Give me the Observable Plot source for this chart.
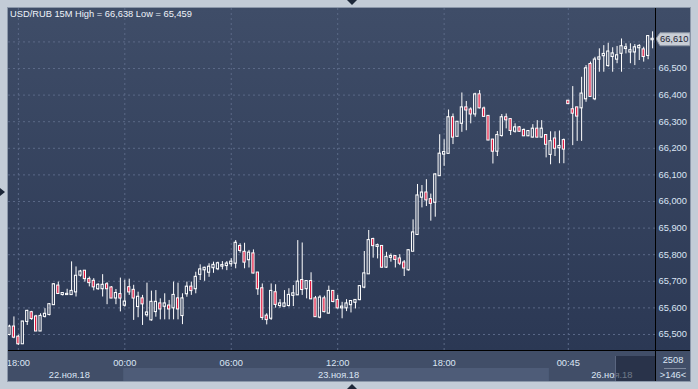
<!DOCTYPE html>
<html><head><meta charset="utf-8">
<script src="https://cdn.jsdelivr.net/npm/d3@7"></script>
<script src="https://cdn.jsdelivr.net/npm/@observablehq/plot@0.6"></script>
<style>
html,body{margin:0;padding:0;background:#c3ccd7;}
#wrap{position:relative;width:698px;height:389px;background:#c3ccd7;overflow:hidden;font-family:"Liberation Sans",Arial,sans-serif;}
.abs{position:absolute;}
#wrap svg{position:absolute;left:0;}
</style></head>
<body><div id="wrap">
  <div class="abs" style="left:7px;top:7px;width:684px;height:375px;box-sizing:border-box;border:1px solid #8c98aa;"></div>
  <div class="abs" style="left:8px;top:8px;width:682px;height:342px;background:linear-gradient(#3f4d68,#2b3854);"></div>
  <div class="abs" style="left:8px;top:350px;width:682px;height:31px;background:#414e68;"></div>
</div>
<script>
// ---- data: 15-minute USD/RUB candles (index 0 = 22 Nov 17:30) ----
const open = [65.500,65.528,65.490,65.465,65.549,65.582,65.566,65.513,65.568,65.575,65.612,65.682,65.650,65.650,65.650,65.660,65.723,65.738,65.707,65.700,65.672,65.672,65.687,65.675,65.637,65.650,65.610,65.676,65.666,
65.605,65.634,65.574,65.555,65.586,65.615,65.606,65.607,65.600,65.634,65.571,65.653,65.678,65.672,65.726,65.743,65.734,65.751,65.747,65.757,65.759,65.766,65.768,65.831,65.809,65.781,65.803,65.731,65.672,
65.569,65.561,65.657,65.609,65.606,65.609,65.647,65.649,65.703,65.672,65.699,65.634,65.565,65.634,65.580,65.662,65.628,65.600,65.600,65.612,65.621,65.631,65.678,65.728,65.857,65.831,65.831,65.753,65.790,
65.793,65.784,65.769,65.743,65.813,65.876,66.016,66.032,66.007,65.997,66.097,66.178,66.181,66.315,66.245,66.294,66.352,66.344,66.329,66.401,66.348,66.320,66.231,66.189,66.248,66.315,66.308,66.264,66.277,
66.267,66.247,66.242,66.272,66.242,66.248,66.177,66.235,66.202,66.229,66.377,66.345,66.352,66.352,66.386,66.515,66.386,66.535,66.548,66.511,66.545,66.535,66.557,66.575,66.562,66.562,66.578,66.570,66.549,66.608];
const high = [65.535,65.566,65.497,65.549,65.591,65.587,65.572,65.578,65.597,65.616,65.691,65.697,65.657,65.670,65.773,65.754,65.741,65.738,65.716,65.710,65.691,65.725,65.695,65.680,65.669,65.712,65.704,65.708,65.685,
65.659,65.647,65.693,65.663,65.665,65.634,65.653,65.628,65.697,65.693,65.653,65.697,65.697,65.734,65.762,65.753,65.766,65.772,65.772,65.774,65.774,65.785,65.853,65.841,65.843,65.816,65.818,65.731,65.690,
65.578,65.690,65.687,65.631,65.665,65.672,65.684,65.853,65.844,65.699,65.732,65.643,65.646,65.644,65.682,65.665,65.647,65.621,65.631,65.624,65.631,65.684,65.812,65.891,65.862,65.840,65.831,65.809,65.803,
65.793,65.800,65.778,65.818,65.931,66.064,66.060,66.082,66.028,66.104,66.251,66.232,66.344,66.329,66.300,66.408,66.376,66.352,66.407,66.417,66.355,66.320,66.231,66.263,66.327,66.329,66.308,66.292,66.282,
66.273,66.267,66.289,66.304,66.304,66.248,66.262,66.262,66.265,66.235,66.377,66.432,66.352,66.467,66.511,66.524,66.542,66.574,66.586,66.595,66.578,66.583,66.611,66.593,66.593,66.590,66.590,66.580,66.624,66.638];
const low = [65.495,65.484,65.459,65.465,65.534,65.553,65.512,65.512,65.562,65.570,65.610,65.651,65.645,65.650,65.650,65.641,65.716,65.697,65.679,65.664,65.666,65.641,65.612,65.635,65.612,65.585,65.603,65.647,65.553,
65.563,65.534,65.565,65.550,65.565,65.555,65.555,65.555,65.555,65.555,65.537,65.640,65.647,65.653,65.703,65.700,65.715,65.730,65.740,65.743,65.740,65.753,65.747,65.806,65.747,65.750,65.728,65.647,65.553,
65.536,65.553,65.599,65.599,65.603,65.603,65.605,65.647,65.647,65.634,65.631,65.565,65.559,65.581,65.578,65.619,65.596,65.559,65.586,65.581,65.596,65.627,65.672,65.728,65.787,65.784,65.749,65.749,65.772,
65.750,65.759,65.718,65.738,65.813,65.872,65.976,65.981,65.926,65.941,66.094,66.132,66.181,66.214,66.245,66.260,66.266,66.292,66.317,66.348,66.320,66.229,66.141,66.169,66.242,66.273,66.248,66.257,66.260,
66.244,66.244,66.239,66.239,66.239,66.164,66.138,66.169,66.142,66.142,66.368,66.210,66.226,66.226,66.373,66.392,66.379,66.486,66.486,66.505,66.486,66.518,66.486,66.555,66.518,66.511,66.530,66.524,66.533,66.574];
const close = [65.528,65.490,65.465,65.547,65.587,65.560,65.513,65.568,65.576,65.612,65.687,65.654,65.654,65.651,65.662,65.719,65.735,65.710,65.695,65.679,65.685,65.685,65.672,65.637,65.654,65.637,65.622,65.660,65.637,
65.640,65.615,65.581,65.621,65.621,65.596,65.615,65.596,65.647,65.596,65.634,65.678,65.665,65.715,65.743,65.749,65.753,65.760,65.766,65.759,65.765,65.772,65.843,65.816,65.772,65.806,65.731,65.672,65.564,
65.556,65.662,65.613,65.615,65.615,65.647,65.653,65.697,65.669,65.699,65.634,65.567,65.637,65.586,65.662,65.624,65.600,65.603,65.615,65.624,65.628,65.680,65.728,65.853,65.834,65.834,65.753,65.790,65.793,
65.782,65.768,65.750,65.815,65.882,66.021,66.032,66.006,65.993,66.100,66.178,66.184,66.315,66.242,66.298,66.352,66.344,66.329,66.401,66.352,66.320,66.231,66.189,66.248,66.315,66.307,66.267,66.277,66.264,
66.247,66.263,66.272,66.242,66.272,66.215,66.225,66.200,66.207,66.197,66.368,66.332,66.321,66.404,66.499,66.395,66.532,66.540,66.553,66.562,66.555,66.548,66.582,66.578,66.567,66.578,66.583,66.545,66.620,66.610];

const priceTicks = [65.5,65.6,65.7,65.8,65.9,66.0,66.1,66.2,66.3,66.4,66.5,66.6];
const priceLabelTicks = [65.5,65.6,65.7,65.8,65.9,66.0,66.1,66.2,66.3,66.4,66.5];
const timeTickIdx = [2, 26, 50, 74, 98, 126];
const timeTickLabels = ["18:00","00:00","06:00","12:00","18:00","00:45"];
const dayLabels = ["22.ноя.18","23.ноя.18","26.ноя.18"];
const dayStartIdx = [-1, 25.75, 121.75];
const dayEndIdx = [25.75, 121.75, 147];
const dayLabelIdx = [13.5, 74.2, 135.8];
const title = "USD/RUB 15M High = 66,638 Low = 65,459";
const barCount = "2508";
const visibleCount = ">146<";

// ---- layout ----
const FONT = "'Liberation Sans', Arial, sans-serif";
const TXT = "#dbe5f4";
const GRID = "#5b6987";
const RED = "#e3173e";
const xDomain = [-0.225, 145.66];
const yDomain = [65.4398, 66.7256];
const fmt = v => v.toFixed(3).replace(".", ",");

const bars = open.map((o, i) => ({i, o, h: high[i], l: low[i], c: close[i]}));
const up = bars.filter(d => d.c >= d.o);
const down = bars.filter(d => d.c < d.o);
const hw = 0.25;

const main = Plot.plot({
  width: 698, height: 350,
  marginLeft: 8, marginRight: 43, marginTop: 8, marginBottom: 0,
  x: {domain: xDomain, axis: null},
  y: {domain: yDomain},
  style: {background: "transparent", color: TXT, fontFamily: FONT, fontSize: "9.3px"},
  marks: [
    Plot.ruleY(priceTicks, {stroke: GRID, strokeDasharray: "2,3"}),
    Plot.ruleX(timeTickIdx, {stroke: GRID, strokeDasharray: "2,3"}),
    Plot.ruleX(bars, {x: "i", y1: "l", y2: d => Math.min(d.o, d.c), stroke: "#ffffff", clip: true}),
    Plot.ruleX(bars, {x: "i", y1: d => Math.max(d.o, d.c), y2: "h", stroke: "#ffffff", clip: true}),
    Plot.rect(up, {x1: d => d.i - hw, x2: d => d.i + hw, y1: "o", y2: "c", fill: "none", stroke: "#ffffff", strokeWidth: 1, insetTop: -0.5, insetBottom: -0.5, clip: true}),
    Plot.rect(down, {x1: d => d.i - hw, x2: d => d.i + hw, y1: "o", y2: "c", fill: RED, stroke: "#ffffff", strokeWidth: 1, insetTop: -0.5, insetBottom: -0.5, clip: true}),
    Plot.axisY(priceLabelTicks, {anchor: "right", tickSize: 0, tickPadding: 3, tickFormat: fmt, color: TXT})
  ]
});
main.style.top = "0px";

const bottom = Plot.plot({
  width: 698, height: 39,
  marginLeft: 8, marginRight: 43, marginTop: 0, marginBottom: 8,
  x: {domain: xDomain, axis: null},
  y: {domain: ["t", "d"], range: [5, 31], padding: 0, axis: null},
  style: {background: "transparent", color: TXT, fontFamily: FONT, fontSize: "9.3px"},
  marks: [
    Plot.barX(dayLabels, {x1: (d, i) => dayStartIdx[i], x2: (d, i) => dayEndIdx[i], y: () => "d", fill: (d, i) => i % 2 ? "#4e5c78" : "#414e68", clip: true}),
    Plot.text(timeTickLabels, {x: (d, i) => timeTickIdx[i], y: () => "t", text: d => d, fill: TXT, dy: 1, clip: true}),
    Plot.text(dayLabels, {x: (d, i) => dayLabelIdx[i], y: () => "d", text: d => d, fill: TXT, clip: true})
  ]
});
bottom.style.top = "350px";

const wrap = document.getElementById("wrap");
wrap.appendChild(main);
wrap.appendChild(bottom);

// last-price marker on the right axis, placed via the plot's y scale
const yScale = main.scale("y");
const yp = yScale.apply(close[close.length - 1]);
const svg = d3.select(main);
const g = svg.append("g");
g.append("path")
  .attr("d", `M656,${yp} L660,${yp - 6} L690,${yp - 6} L690,${yp + 7} L660,${yp + 7} Z`)
  .attr("fill", "#c9ced6").attr("stroke", "#8a93a3").attr("stroke-width", 1);
g.append("text").attr("x", 660).attr("y", yp).attr("dy", "0.36em")
  .attr("text-anchor", "start")
  .attr("fill", "#1b2333").attr("font-size", "9.3px").attr("font-family", FONT)
  .text(fmt(close[close.length - 1]));

// overlays & decorations
const add = (html) => wrap.insertAdjacentHTML("beforeend", html);
add(`<div class="abs" style="left:615px;top:356px;width:40px;height:25px;background:rgba(22,30,50,0.55);border-left:1px solid #5a6680;box-sizing:border-box;"></div>`);
add(`<div class="abs" style="left:655px;top:8px;width:1px;height:373px;background:#000;"></div>`);
add(`<div class="abs" style="left:8px;top:350px;width:682px;height:1px;background:#000;"></div>`);
add(`<div class="abs" style="left:10px;top:8px;font-size:9.3px;line-height:12px;color:#eef3fa;white-space:nowrap;">${title}</div>`);
add(`<div class="abs" style="left:656px;top:354px;width:34px;text-align:center;font-size:9.3px;line-height:12px;color:${TXT};">${barCount}</div>`);
add(`<div class="abs" style="left:664px;top:368px;width:22px;height:1px;background:#7d889c;"></div>`);
add(`<div class="abs" style="left:656px;top:369px;width:34px;text-align:center;font-size:9.3px;line-height:12px;color:${TXT};">${visibleCount.replace(/</g,"&lt;").replace(/>/g,"&gt;")}</div>`);
add(`<div class="abs" style="left:347px;top:0px;width:0;height:0;border-left:5px solid transparent;border-right:5px solid transparent;border-top:5px solid #1d2739;"></div>`);
add(`<div class="abs" style="left:347px;top:384px;width:0;height:0;border-left:5px solid transparent;border-right:5px solid transparent;border-bottom:5px solid #1d2739;"></div>`);
add(`<div class="abs" style="left:0px;top:188px;width:0;height:0;border-top:4px solid transparent;border-bottom:4px solid transparent;border-left:5px solid #1d2739;"></div>`);
</script>
</body></html>
